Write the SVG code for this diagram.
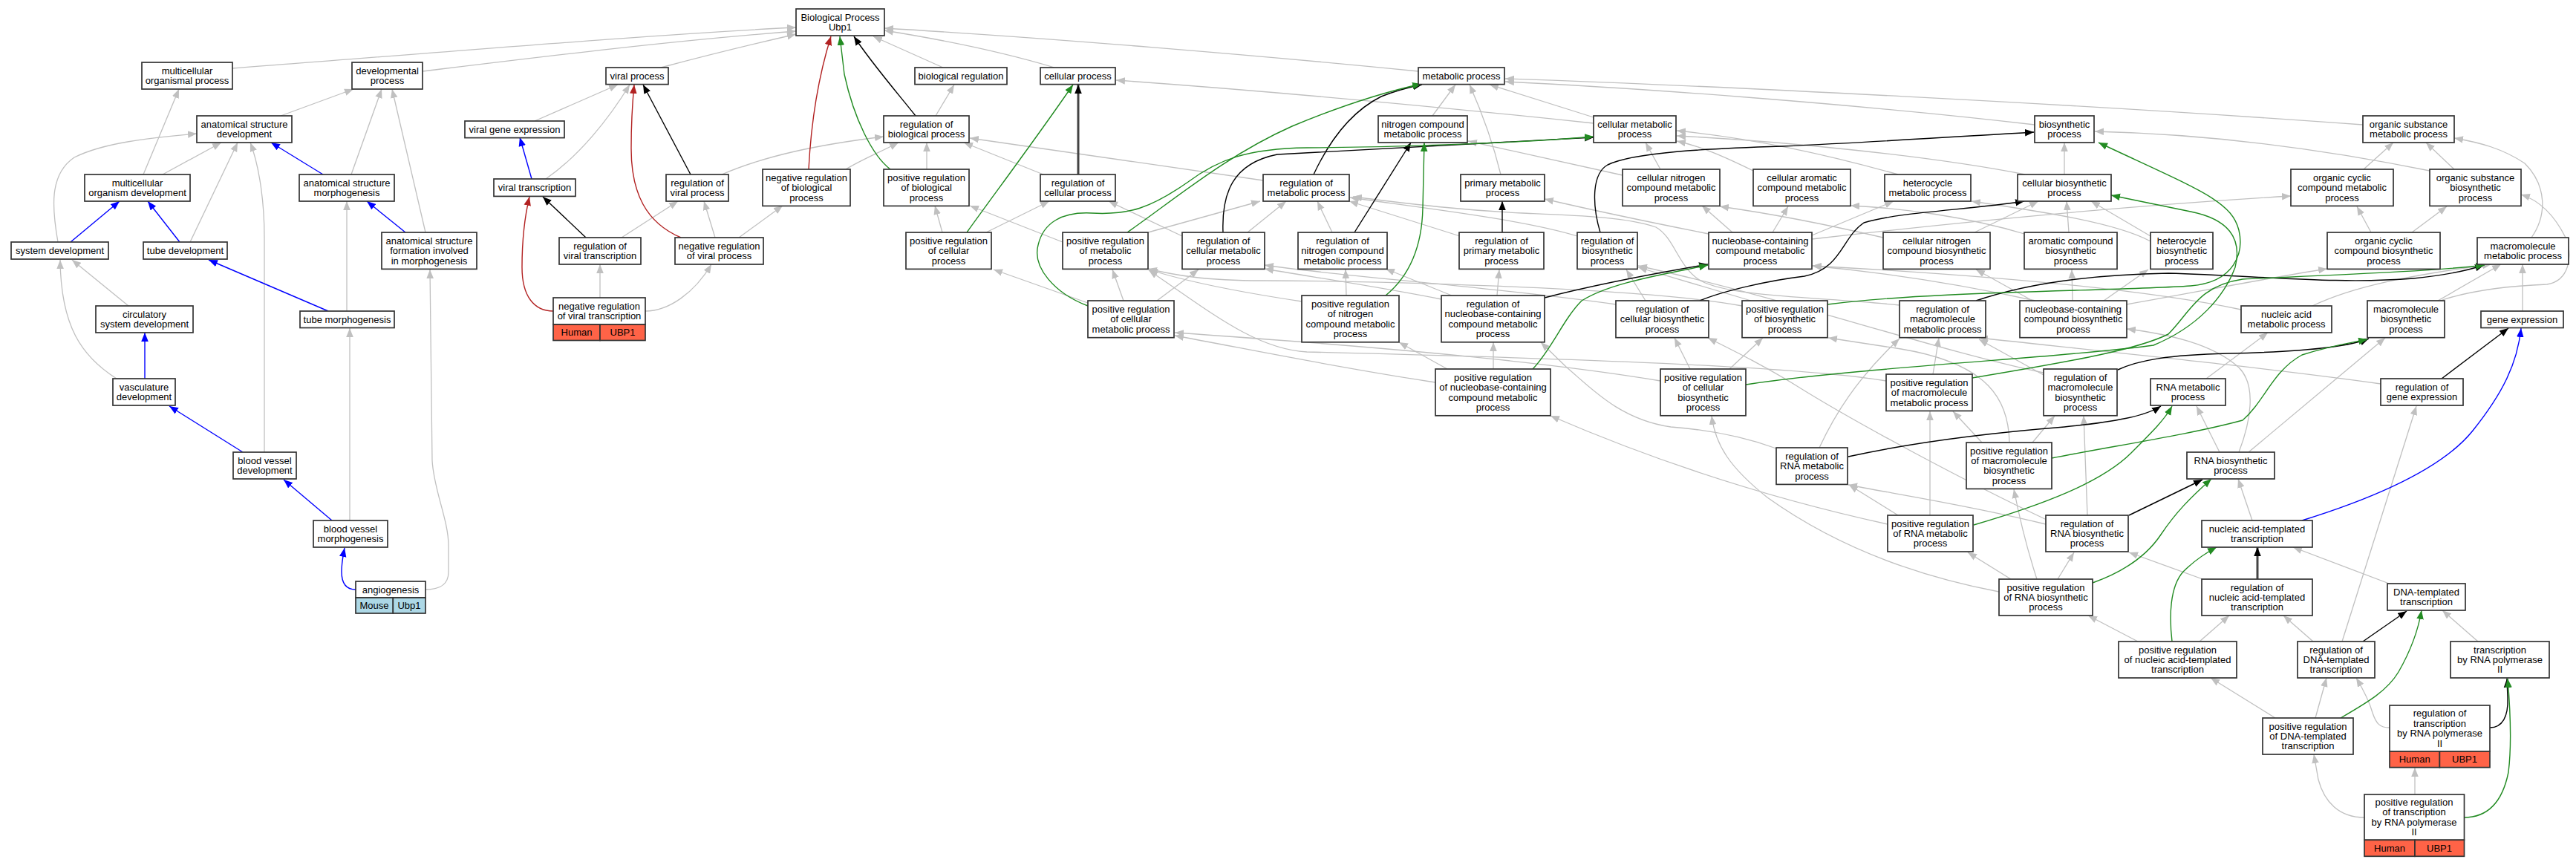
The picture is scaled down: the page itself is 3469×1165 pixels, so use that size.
<svg xmlns="http://www.w3.org/2000/svg" width="3469" height="1165" viewBox="0 0 3469 1165">
<defs>
<style>
.n{fill:#fff;stroke:#333;stroke-width:1.7}
.hu{fill:#ff6347;stroke:#333;stroke-width:1.7}
.mo{fill:#add8e6;stroke:#333;stroke-width:1.7}
.t{font-family:"Liberation Sans",Arial,Helvetica,sans-serif;font-size:13px;fill:#000;text-anchor:middle}
.e{fill:none;stroke-width:1.3}
.g{stroke:#c0c0c0;marker-end:url(#mg)}
.k{stroke:#000;stroke-width:1.4;marker-end:url(#mk)}
.kk{stroke:#444;stroke-width:3;marker-end:url(#mk)}
.gr{stroke:#228b22;stroke-width:1.4;marker-end:url(#mgr)}
.r{stroke:#b22222;stroke-width:1.4;marker-end:url(#mr)}
.b{stroke:#0000ff;stroke-width:1.4;marker-end:url(#mb)}
</style>
<marker id="mg" viewBox="0 0 10 8" refX="10" refY="4" markerWidth="12" markerHeight="10" markerUnits="userSpaceOnUse" orient="auto"><path d="M0,0L10,4L0,8z" fill="#c0c0c0"/></marker>
<marker id="mk" viewBox="0 0 10 8" refX="10" refY="4" markerWidth="12" markerHeight="10" markerUnits="userSpaceOnUse" orient="auto"><path d="M0,0L10,4L0,8z" fill="#000"/></marker>
<marker id="mgr" viewBox="0 0 10 8" refX="10" refY="4" markerWidth="12" markerHeight="10" markerUnits="userSpaceOnUse" orient="auto"><path d="M0,0L10,4L0,8z" fill="#228b22"/></marker>
<marker id="mr" viewBox="0 0 10 8" refX="10" refY="4" markerWidth="12" markerHeight="10" markerUnits="userSpaceOnUse" orient="auto"><path d="M0,0L10,4L0,8z" fill="#b22222"/></marker>
<marker id="mb" viewBox="0 0 10 8" refX="10" refY="4" markerWidth="12" markerHeight="10" markerUnits="userSpaceOnUse" orient="auto"><path d="M0,0L10,4L0,8z" fill="#0000ff"/></marker>
</defs>
<rect width="3469" height="1165" fill="#fff"/>
<g id="connectors">
<path class="e g" d="M313,92 C600,70 900,45 1072,37"/>
<path class="e g" d="M569,96 C700,80 900,55 1072,42"/>
<path class="e g" d="M890,91 C950,75 1020,58 1072,46"/>
<path class="e g" d="M1270,91 L1176,49"/>
<path class="e g" d="M1420,91 C1350,70 1260,52 1191,41"/>
<path class="e g" d="M1910,96 C1700,75 1400,50 1191,38"/>
<path class="e g" d="M378,156 L476,120"/>
<path class="e g" d="M193,235 L241,120"/>
<path class="e g" d="M219,235 L298,192"/>
<path class="e g" d="M473,235 L514,120"/>
<path class="e g" d="M78,326 C70,280 66,235 100,212 C140,192 200,186 265,180"/>
<path class="e g" d="M256,326 L320,192"/>
<path class="e g" d="M573,313 L528,120"/>
<path class="e g" d="M173,412 L97,350"/>
<path class="e g" d="M467,419 L467,271"/>
<path class="e g" d="M157,510 C110,480 82,440 81,350"/>
<path class="e g" d="M356,609 L356,320 C356,260 346,215 337,192"/>
<path class="e g" d="M471,701 L471,442"/>
<path class="e g" d="M573,794 C592,794 604,788 604,770 L604,735 C604,700 584,660 582,620 L579,363"/>
<path class="e g" d="M720,163 L832,114"/>
<path class="e g" d="M735,241 C780,210 820,160 848,114"/>
<path class="e g" d="M972,235 C1030,210 1100,195 1190,184"/>
<path class="e g" d="M1139,228 C1160,215 1185,205 1210,192"/>
<path class="e g" d="M837,320 L913,271"/>
<path class="e g" d="M963,320 L948,271"/>
<path class="e g" d="M995,320 L1054,277"/>
<path class="e g" d="M808,401 L808,356"/>
<path class="e g" d="M869,419 C900,419 935,395 958,356"/>
<path class="e g" d="M1260,156 L1285,114"/>
<path class="e g" d="M1248,228 L1248,192"/>
<path class="e g" d="M1405,235 L1298,192"/>
<path class="e g" d="M1701,243 L1306,186"/>
<path class="e g" d="M1269,313 L1259,277"/>
<path class="e g" d="M1328,313 L1413,271"/>
<path class="e g" d="M1431,326 L1306,277"/>
<path class="e g" d="M1592,318 L1493,271"/>
<path class="e g" d="M1546,313 L1697,271"/>
<path class="e g" d="M1680,313 L1732,271"/>
<path class="e g" d="M1465,408 L1338,363"/>
<path class="e g" d="M1513,405 L1498,363"/>
<path class="e g" d="M1558,405 L1614,363"/>
<path class="e g" d="M1929,156 L1960,114"/>
<path class="e g" d="M2146,158 L2006,114"/>
<path class="e g" d="M2146,166 C1900,140 1700,122 1503,108"/>
<path class="e g" d="M2021,235 C2010,190 1995,150 1979,114"/>
<path class="e g" d="M1966,318 L1817,271"/>
<path class="e g" d="M1794,313 L1774,271"/>
<path class="e g" d="M2185,236 L1977,190"/>
<path class="e g" d="M2236,228 L2216,192"/>
<path class="e g" d="M2556,235 C2450,205 2350,185 2258,176"/>
<path class="e g" d="M2727,235 C2600,210 2400,190 2258,183"/>
<path class="e g" d="M2361,230 C2320,210 2290,197 2258,190"/>
<path class="e g" d="M2780,235 L2780,192"/>
<path class="e g" d="M2740,168 C2500,140 2200,118 2027,110"/>
<path class="e g" d="M3182,168 C2800,140 2300,115 2027,106"/>
<path class="e g" d="M3183,228 L3223,192"/>
<path class="e g" d="M3305,228 L3267,192"/>
<path class="e g" d="M3272,230 C3100,195 2950,180 2821,177"/>
<path class="e g" d="M3409,320 C3430,290 3430,250 3400,220 C3370,200 3340,192 3305,186"/>
<path class="e g" d="M2333,313 L2292,277"/>
<path class="e g" d="M2387,313 L2408,278"/>
<path class="e g" d="M2440,317 L2550,271"/>
<path class="e g" d="M2440,322 C2700,292 2900,275 3085,264"/>
<path class="e g" d="M2301,315 C2200,295 2140,282 2080,268"/>
<path class="e g" d="M2536,320 C2450,300 2380,287 2316,278"/>
<path class="e g" d="M2659,313 L2745,271"/>
<path class="e g" d="M2786,313 L2783,271"/>
<path class="e g" d="M2726,315 C2650,292 2560,280 2492,277"/>
<path class="e g" d="M2896,318 L2816,271"/>
<path class="e g" d="M2896,325 C2850,300 2750,285 2655,271"/>
<path class="e g" d="M3193,313 L3174,278"/>
<path class="e g" d="M3248,313 L3295,278"/>
<path class="e g" d="M2741,405 C2650,385 2550,368 2440,358"/>
<path class="e g" d="M2737,405 L2661,363"/>
<path class="e g" d="M2791,405 L2790,363"/>
<path class="e g" d="M2833,405 L2893,363"/>
<path class="e g" d="M2864,410 C2950,395 3050,375 3134,362"/>
<path class="e g" d="M3283,405 L3368,356"/>
<path class="e g" d="M3286,405 C3330,390 3380,385 3430,383 C3460,378 3465,345 3455,320 C3440,290 3420,270 3395,262"/>
<path class="e g" d="M3018,417 C2900,392 2700,372 2441,358"/>
<path class="e g" d="M3114,412 C3170,385 3250,370 3355,356"/>
<path class="e g" d="M3397,419 L3397,356"/>
<path class="e g" d="M3206,517 C3050,495 2850,475 2665,455"/>
<path class="e g" d="M2971,510 L3054,448"/>
<path class="e g" d="M2989,609 L2958,547"/>
<path class="e g" d="M3015,609 C3030,570 3040,520 3015,495 C2980,463 2920,450 2864,443"/>
<path class="e g" d="M3028,609 L3212,455"/>
<path class="e g" d="M3033,701 L3014,645"/>
<path class="e g" d="M2969,781 L2867,744"/>
<path class="e g" d="M3220,787 L3088,737"/>
<path class="e g" d="M3115,864 L3075,829"/>
<path class="e g" d="M3154,864 L3254,547"/>
<path class="e g" d="M3337,864 L3289,822"/>
<path class="e g" d="M2879,864 L2812,829"/>
<path class="e g" d="M2962,864 L3002,829"/>
<path class="e g" d="M3064,967 L2977,913"/>
<path class="e g" d="M3118,967 L3133,913"/>
<path class="e g" d="M3218,980 C3205,980 3200,975 3195,960 C3190,942 3182,928 3173,913"/>
<path class="e g" d="M3252,1070 L3252,1034"/>
<path class="e g" d="M3184,1101 C3150,1101 3130,1080 3122,1050 L3116,1016"/>
<path class="e g" d="M1941,403 C1850,385 1760,372 1703,362"/>
<path class="e g" d="M2016,398 L2019,363"/>
<path class="e g" d="M1955,398 L1866,362"/>
<path class="e g" d="M1813,398 L1812,363"/>
<path class="e g" d="M1753,406 C1680,395 1600,380 1547,363"/>
<path class="e g" d="M2011,497 L2011,461"/>
<path class="e g" d="M1949,497 L1884,461"/>
<path class="e g" d="M1933,515 C1800,495 1680,470 1582,452"/>
<path class="e g" d="M2216,405 L2190,363"/>
<path class="e g" d="M2176,410 C2000,385 1800,372 1703,357"/>
<path class="e g" d="M2276,497 L2255,455"/>
<path class="e g" d="M2329,497 L2374,455"/>
<path class="e g" d="M2236,513 C2100,490 1900,470 1582,448"/>
<path class="e g" d="M2358,405 L2206,360"/>
<path class="e g" d="M2346,412 C2200,385 1800,378 1700,378 C1620,378 1580,370 1546,362"/>
<path class="e g" d="M2124,318 C2050,295 1900,278 1818,266"/>
<path class="e g" d="M2558,411 C2450,400 2330,400 2290,378 C2260,360 2255,320 2230,306 C2190,292 2120,290 2050,287 C1950,282 1880,272 1822,265"/>
<path class="e g" d="M2603,504 L2611,455"/>
<path class="e g" d="M2540,513 C2400,490 2000,480 1760,474 C1690,470 1630,420 1547,364"/>
<path class="e g" d="M2752,505 L2665,457"/>
<path class="e g" d="M2752,502 C2600,470 2400,400 2206,358"/>
<path class="e g" d="M2450,603 C2470,560 2500,510 2558,456"/>
<path class="e g" d="M2392,604 C2340,585 2290,578 2250,575 C2180,565 2140,520 2110,495 L2075,461"/>
<path class="e g" d="M2556,694 L2490,653"/>
<path class="e g" d="M2599,694 L2599,554"/>
<path class="e g" d="M2542,706 C2400,675 2250,630 2088,560"/>
<path class="e g" d="M2755,706 C2650,680 2550,665 2489,653"/>
<path class="e g" d="M2811,694 L2806,560"/>
<path class="e g" d="M2756,700 C2650,650 2500,570 2420,520 C2380,495 2340,475 2300,455"/>
<path class="e g" d="M2708,780 L2650,744"/>
<path class="e g" d="M2771,780 L2793,744"/>
<path class="e g" d="M2743,780 C2730,740 2720,700 2712,659"/>
<path class="e g" d="M2692,797 C2550,770 2450,720 2380,670 C2330,630 2310,600 2305,560"/>
<path class="e g" d="M2669,596 L2630,554"/>
<path class="e g" d="M2737,596 L2767,560"/>
<path class="e g" d="M2706,596 C2705,540 2680,490 2560,470 L2462,455"/>
<path class="e k" d="M1233,156 C1200,115 1170,80 1150,49"/>
<path class="e k" d="M930,235 L866,114"/>
<path class="e k" d="M789,320 L731,265"/>
<path class="e kk" d="M1452,235 L1452,114"/>
<path class="e k" d="M1769,235 C1790,190 1820,150 1860,130 C1880,122 1900,117 1915,114"/>
<path class="e k" d="M1647,313 C1645,260 1660,220 1720,208 C1850,200 2000,193 2146,185"/>
<path class="e k" d="M1824,313 L1900,192"/>
<path class="e k" d="M2023,313 L2023,271"/>
<path class="e k" d="M2155,313 C2145,280 2142,235 2165,222 C2200,205 2300,200 2400,197 C2550,190 2650,183 2739,178"/>
<path class="e k" d="M2080,401 C2150,383 2230,368 2300,356"/>
<path class="e k" d="M2289,405 C2320,392 2380,378 2430,372 C2480,362 2480,320 2510,300 C2560,285 2650,283 2726,271"/>
<path class="e k" d="M2661,405 C2720,385 2800,370 2920,368 C3050,372 3150,383 3250,375 C3300,370 3330,362 3345,357"/>
<path class="e k" d="M2852,498 C2880,485 2920,478 3000,476 C3100,474 3160,468 3190,456"/>
<path class="e k" d="M3288,510 L3378,442"/>
<path class="e k" d="M2489,615 C2580,595 2680,583 2780,575 C2850,568 2890,560 2910,547"/>
<path class="e k" d="M2867,694 L2966,646"/>
<path class="e kk" d="M3040,780 L3040,737"/>
<path class="e k" d="M3182,864 L3241,823"/>
<path class="e k" d="M3353,980 C3370,980 3378,965 3377,940 L3376,914"/>
<path class="e gr" d="M1199,228 C1175,210 1150,160 1137,100 L1131,49"/>
<path class="e gr" d="M1302,313 C1340,260 1400,180 1445,114"/>
<path class="e gr" d="M1518,313 C1580,270 1650,210 1740,170 C1800,145 1860,125 1914,113"/>
<path class="e gr" d="M1465,412 C1420,395 1390,360 1398,330 C1405,300 1430,285 1470,287 C1520,290 1550,280 1600,245 C1640,215 1680,200 1760,199 C1900,198 2050,192 2146,184"/>
<path class="e gr" d="M1866,398 C1900,370 1915,330 1916,280 L1918,192"/>
<path class="e gr" d="M2064,497 C2090,470 2105,430 2130,405 C2170,380 2240,370 2300,357"/>
<path class="e gr" d="M2461,410 C2600,392 2850,392 2950,385 C3010,380 3022,340 3015,310 C3005,270 2960,255 2826,192"/>
<path class="e gr" d="M2351,518 C2500,495 2800,480 2900,465 C2960,440 2995,400 3010,360 C3020,320 3000,295 2950,285 L2843,263"/>
<path class="e gr" d="M2656,509 C2800,485 2880,470 2920,450 C2950,420 2960,385 3020,376 C3150,370 3280,365 3346,357"/>
<path class="e gr" d="M2763,617 C2850,600 2950,585 3020,566 C3050,540 3060,500 3100,478 C3140,465 3165,462 3188,457"/>
<path class="e gr" d="M2658,707 C2750,680 2830,650 2870,610 C2900,580 2915,565 2925,547"/>
<path class="e gr" d="M2818,785 C2860,770 2890,750 2910,720 C2930,690 2950,670 2978,645"/>
<path class="e gr" d="M2925,864 C2921,830 2922,790 2940,770 C2955,755 2970,745 2985,737"/>
<path class="e gr" d="M3152,967 C3190,945 3215,930 3230,905 C3250,870 3258,840 3261,822"/>
<path class="e gr" d="M3318,1101 C3350,1101 3370,1080 3378,1040 C3383,1000 3380,950 3377,914"/>
<path class="e r" d="M1089,228 C1092,170 1100,110 1119,49"/>
<path class="e r" d="M917,320 C870,300 850,260 850,200 C850,160 852,135 854,114"/>
<path class="e r" d="M745,419 C720,419 703,400 703,360 C703,320 707,290 713,265"/>
<path class="e b" d="M435,235 L365,192"/>
<path class="e b" d="M95,326 L161,271"/>
<path class="e b" d="M242,326 L199,271"/>
<path class="e b" d="M546,313 L494,271"/>
<path class="e b" d="M442,419 L281,350"/>
<path class="e b" d="M195,510 L195,448"/>
<path class="e b" d="M327,609 L228,547"/>
<path class="e b" d="M447,701 L382,646"/>
<path class="e b" d="M479,794 C465,794 460,785 460,770 C460,758 462,748 464,738"/>
<path class="e b" d="M716,241 L700,185"/>
<path class="e b" d="M3100,701 C3200,670 3290,630 3330,580 C3370,530 3390,490 3395,442"/>
</g>
<g id="bp"><rect class="n" x="1072" y="12" width="119" height="36"/><text class="t" x="1131.5" y="27.8">Biological Process<tspan x="1131.5" dy="13.4">Ubp1</tspan></text></g>
<g id="mop"><rect class="n" x="191" y="84" width="122" height="36"/><text class="t" x="252" y="99.8">multicellular<tspan x="252" dy="13.4">organismal process</tspan></text></g>
<g id="dev"><rect class="n" x="474" y="84" width="95" height="36"/><text class="t" x="521.5" y="99.8">developmental<tspan x="521.5" dy="13.4">process</tspan></text></g>
<g id="vp"><rect class="n" x="816" y="91" width="84" height="22.6"/><text class="t" x="858" y="106.8">viral process</text></g>
<g id="breg"><rect class="n" x="1232" y="91" width="124" height="22.6"/><text class="t" x="1294" y="106.8">biological regulation</text></g>
<g id="cp"><rect class="n" x="1401" y="91" width="101" height="22.6"/><text class="t" x="1451.5" y="106.8">cellular process</text></g>
<g id="mp"><rect class="n" x="1910" y="91" width="116" height="22.6"/><text class="t" x="1968" y="106.8">metabolic process</text></g>
<g id="asd"><rect class="n" x="265" y="156" width="128" height="36"/><text class="t" x="329" y="171.8">anatomical structure<tspan x="329" dy="13.4">development</tspan></text></g>
<g id="vge"><rect class="n" x="626" y="163" width="134" height="22.6"/><text class="t" x="693" y="178.8">viral gene expression</text></g>
<g id="rbp"><rect class="n" x="1190" y="156" width="115" height="36"/><text class="t" x="1247.5" y="171.8">regulation of<tspan x="1247.5" dy="13.4">biological process</tspan></text></g>
<g id="ncmp"><rect class="n" x="1856" y="156" width="120" height="36"/><text class="t" x="1916" y="171.8">nitrogen compound<tspan x="1916" dy="13.4">metabolic process</tspan></text></g>
<g id="cmp"><rect class="n" x="2146" y="156" width="111" height="36"/><text class="t" x="2201.5" y="171.8">cellular metabolic<tspan x="2201.5" dy="13.4">process</tspan></text></g>
<g id="bsp"><rect class="n" x="2740" y="156" width="80" height="36"/><text class="t" x="2780" y="171.8">biosynthetic<tspan x="2780" dy="13.4">process</tspan></text></g>
<g id="osmp"><rect class="n" x="3182" y="156" width="123" height="36"/><text class="t" x="3243.5" y="171.8">organic substance<tspan x="3243.5" dy="13.4">metabolic process</tspan></text></g>
<g id="mod"><rect class="n" x="114" y="235" width="142" height="36"/><text class="t" x="185" y="250.8">multicellular<tspan x="185" dy="13.4">organism development</tspan></text></g>
<g id="asm"><rect class="n" x="403" y="235" width="128" height="36"/><text class="t" x="467" y="250.8">anatomical structure<tspan x="467" dy="13.4">morphogenesis</tspan></text></g>
<g id="vt"><rect class="n" x="665" y="241" width="110" height="23.4"/><text class="t" x="720" y="257.2">viral transcription</text></g>
<g id="rvp"><rect class="n" x="897" y="235" width="84" height="36"/><text class="t" x="939" y="250.8">regulation of<tspan x="939" dy="13.4">viral process</tspan></text></g>
<g id="nrbp"><rect class="n" x="1027" y="228" width="118" height="49.4"/><text class="t" x="1086" y="243.8">negative regulation<tspan x="1086" dy="13.4">of biological</tspan><tspan x="1086" dy="13.4">process</tspan></text></g>
<g id="prbp"><rect class="n" x="1190" y="228" width="115" height="49.4"/><text class="t" x="1247.5" y="243.8">positive regulation<tspan x="1247.5" dy="13.4">of biological</tspan><tspan x="1247.5" dy="13.4">process</tspan></text></g>
<g id="rcp"><rect class="n" x="1401" y="235" width="101" height="36"/><text class="t" x="1451.5" y="250.8">regulation of<tspan x="1451.5" dy="13.4">cellular process</tspan></text></g>
<g id="rmp"><rect class="n" x="1701" y="235" width="116" height="36"/><text class="t" x="1759" y="250.8">regulation of<tspan x="1759" dy="13.4">metabolic process</tspan></text></g>
<g id="pmp"><rect class="n" x="1967" y="235" width="113" height="36"/><text class="t" x="2023.5" y="250.8">primary metabolic<tspan x="2023.5" dy="13.4">process</tspan></text></g>
<g id="cncmp"><rect class="n" x="2185" y="228" width="131" height="49.4"/><text class="t" x="2250.5" y="243.8">cellular nitrogen<tspan x="2250.5" dy="13.4">compound metabolic</tspan><tspan x="2250.5" dy="13.4">process</tspan></text></g>
<g id="cacmp"><rect class="n" x="2361" y="228" width="131" height="49.4"/><text class="t" x="2426.5" y="243.8">cellular aromatic<tspan x="2426.5" dy="13.4">compound metabolic</tspan><tspan x="2426.5" dy="13.4">process</tspan></text></g>
<g id="hmp"><rect class="n" x="2538" y="235" width="116" height="36"/><text class="t" x="2596" y="250.8">heterocycle<tspan x="2596" dy="13.4">metabolic process</tspan></text></g>
<g id="cbp"><rect class="n" x="2717" y="235" width="126" height="36"/><text class="t" x="2780" y="250.8">cellular biosynthetic<tspan x="2780" dy="13.4">process</tspan></text></g>
<g id="occmp"><rect class="n" x="3085" y="228" width="138" height="49.4"/><text class="t" x="3154" y="243.8">organic cyclic<tspan x="3154" dy="13.4">compound metabolic</tspan><tspan x="3154" dy="13.4">process</tspan></text></g>
<g id="osbp"><rect class="n" x="3272" y="228" width="123" height="49.4"/><text class="t" x="3333.5" y="243.8">organic substance<tspan x="3333.5" dy="13.4">biosynthetic</tspan><tspan x="3333.5" dy="13.4">process</tspan></text></g>
<g id="sd"><rect class="n" x="15" y="326" width="131" height="23"/><text class="t" x="80.5" y="342">system development</text></g>
<g id="td"><rect class="n" x="193" y="326" width="113" height="23"/><text class="t" x="249.5" y="342">tube development</text></g>
<g id="asf"><rect class="n" x="514" y="313" width="128" height="49.4"/><text class="t" x="578" y="328.8">anatomical structure<tspan x="578" dy="13.4">formation involved</tspan><tspan x="578" dy="13.4">in morphogenesis</tspan></text></g>
<g id="rvt"><rect class="n" x="753" y="320" width="110" height="36"/><text class="t" x="808" y="335.8">regulation of<tspan x="808" dy="13.4">viral transcription</tspan></text></g>
<g id="nrvp"><rect class="n" x="909" y="320" width="119" height="36"/><text class="t" x="968.5" y="335.8">negative regulation<tspan x="968.5" dy="13.4">of viral process</tspan></text></g>
<g id="prcp"><rect class="n" x="1220" y="313" width="115" height="49.4"/><text class="t" x="1277.5" y="328.8">positive regulation<tspan x="1277.5" dy="13.4">of cellular</tspan><tspan x="1277.5" dy="13.4">process</tspan></text></g>
<g id="prmp"><rect class="n" x="1431" y="313" width="115" height="49.4"/><text class="t" x="1488.5" y="328.8">positive regulation<tspan x="1488.5" dy="13.4">of metabolic</tspan><tspan x="1488.5" dy="13.4">process</tspan></text></g>
<g id="rcmp"><rect class="n" x="1592" y="313" width="111" height="49.4"/><text class="t" x="1647.5" y="328.8">regulation of<tspan x="1647.5" dy="13.4">cellular metabolic</tspan><tspan x="1647.5" dy="13.4">process</tspan></text></g>
<g id="rncmp"><rect class="n" x="1748" y="313" width="120" height="49.4"/><text class="t" x="1808" y="328.8">regulation of<tspan x="1808" dy="13.4">nitrogen compound</tspan><tspan x="1808" dy="13.4">metabolic process</tspan></text></g>
<g id="rpmp"><rect class="n" x="1965" y="313" width="114" height="49.4"/><text class="t" x="2022" y="328.8">regulation of<tspan x="2022" dy="13.4">primary metabolic</tspan><tspan x="2022" dy="13.4">process</tspan></text></g>
<g id="rbsp"><rect class="n" x="2124" y="313" width="81" height="49.4"/><text class="t" x="2164.5" y="328.8">regulation of<tspan x="2164.5" dy="13.4">biosynthetic</tspan><tspan x="2164.5" dy="13.4">process</tspan></text></g>
<g id="nccmp"><rect class="n" x="2301" y="313" width="139" height="49.4"/><text class="t" x="2370.5" y="328.8">nucleobase-containing<tspan x="2370.5" dy="13.4">compound metabolic</tspan><tspan x="2370.5" dy="13.4">process</tspan></text></g>
<g id="cncbp"><rect class="n" x="2536" y="313" width="144" height="49.4"/><text class="t" x="2608" y="328.8">cellular nitrogen<tspan x="2608" dy="13.4">compound biosynthetic</tspan><tspan x="2608" dy="13.4">process</tspan></text></g>
<g id="acbp"><rect class="n" x="2726" y="313" width="125" height="49.4"/><text class="t" x="2788.5" y="328.8">aromatic compound<tspan x="2788.5" dy="13.4">biosynthetic</tspan><tspan x="2788.5" dy="13.4">process</tspan></text></g>
<g id="hbp"><rect class="n" x="2896" y="313" width="84" height="49.4"/><text class="t" x="2938" y="328.8">heterocycle<tspan x="2938" dy="13.4">biosynthetic</tspan><tspan x="2938" dy="13.4">process</tspan></text></g>
<g id="occbp"><rect class="n" x="3134" y="313" width="152" height="49.4"/><text class="t" x="3210" y="328.8">organic cyclic<tspan x="3210" dy="13.4">compound biosynthetic</tspan><tspan x="3210" dy="13.4">process</tspan></text></g>
<g id="mmp"><rect class="n" x="3336" y="320" width="123" height="36"/><text class="t" x="3397.5" y="335.8">macromolecule<tspan x="3397.5" dy="13.4">metabolic process</tspan></text></g>
<g id="csd"><rect class="n" x="129" y="412" width="131" height="36"/><text class="t" x="194.5" y="427.8">circulatory<tspan x="194.5" dy="13.4">system development</tspan></text></g>
<g id="tm"><rect class="n" x="404" y="419" width="127" height="22.5"/><text class="t" x="467.5" y="434.7">tube morphogenesis</text></g>
<g id="nrvt"><rect class="n" x="745" y="401" width="124" height="36"/><text class="t" x="807" y="416.8">negative regulation<tspan x="807" dy="13.4">of viral transcription</tspan></text><rect class="hu" x="745" y="437" width="63" height="21.5"/><rect class="hu" x="808" y="437" width="61" height="21.5"/><text class="t" x="776.5" y="452.3">Human</text><text class="t" x="838.5" y="452.3">UBP1</text></g>
<g id="prcmp"><rect class="n" x="1465" y="405" width="116" height="49.7"/><text class="t" x="1523" y="420.9">positive regulation<tspan x="1523" dy="13.4">of cellular</tspan><tspan x="1523" dy="13.4">metabolic process</tspan></text></g>
<g id="prncmp"><rect class="n" x="1753" y="398" width="131" height="62.8"/><text class="t" x="1818.5" y="413.8">positive regulation<tspan x="1818.5" dy="13.4">of nitrogen</tspan><tspan x="1818.5" dy="13.4">compound metabolic</tspan><tspan x="1818.5" dy="13.4">process</tspan></text></g>
<g id="rnccmp"><rect class="n" x="1941" y="398" width="139" height="62.8"/><text class="t" x="2010.5" y="413.8">regulation of<tspan x="2010.5" dy="13.4">nucleobase-containing</tspan><tspan x="2010.5" dy="13.4">compound metabolic</tspan><tspan x="2010.5" dy="13.4">process</tspan></text></g>
<g id="rcbp"><rect class="n" x="2176" y="405" width="125" height="49.7"/><text class="t" x="2238.5" y="420.9">regulation of<tspan x="2238.5" dy="13.4">cellular biosynthetic</tspan><tspan x="2238.5" dy="13.4">process</tspan></text></g>
<g id="prbsp"><rect class="n" x="2346" y="405" width="115" height="49.7"/><text class="t" x="2403.5" y="420.9">positive regulation<tspan x="2403.5" dy="13.4">of biosynthetic</tspan><tspan x="2403.5" dy="13.4">process</tspan></text></g>
<g id="rmmp"><rect class="n" x="2558" y="405" width="116" height="49.7"/><text class="t" x="2616" y="420.9">regulation of<tspan x="2616" dy="13.4">macromolecule</tspan><tspan x="2616" dy="13.4">metabolic process</tspan></text></g>
<g id="ncbp"><rect class="n" x="2720" y="405" width="144" height="49.7"/><text class="t" x="2792" y="420.9">nucleobase-containing<tspan x="2792" dy="13.4">compound biosynthetic</tspan><tspan x="2792" dy="13.4">process</tspan></text></g>
<g id="namp"><rect class="n" x="3018" y="412" width="122" height="36"/><text class="t" x="3079" y="427.8">nucleic acid<tspan x="3079" dy="13.4">metabolic process</tspan></text></g>
<g id="mbp"><rect class="n" x="3188" y="405" width="104" height="49.7"/><text class="t" x="3240" y="420.9">macromolecule<tspan x="3240" dy="13.4">biosynthetic</tspan><tspan x="3240" dy="13.4">process</tspan></text></g>
<g id="ge"><rect class="n" x="3341" y="419" width="111" height="22.5"/><text class="t" x="3396.5" y="434.7">gene expression</text></g>
<g id="vd"><rect class="n" x="152" y="510" width="84" height="36"/><text class="t" x="194" y="525.8">vasculature<tspan x="194" dy="13.4">development</tspan></text></g>
<g id="prnccmp"><rect class="n" x="1933" y="497" width="155" height="62.8"/><text class="t" x="2010.5" y="512.8">positive regulation<tspan x="2010.5" dy="13.4">of nucleobase-containing</tspan><tspan x="2010.5" dy="13.4">compound metabolic</tspan><tspan x="2010.5" dy="13.4">process</tspan></text></g>
<g id="prcbp"><rect class="n" x="2236" y="497" width="115" height="62.8"/><text class="t" x="2293.5" y="512.8">positive regulation<tspan x="2293.5" dy="13.4">of cellular</tspan><tspan x="2293.5" dy="13.4">biosynthetic</tspan><tspan x="2293.5" dy="13.4">process</tspan></text></g>
<g id="prmmp"><rect class="n" x="2540" y="504" width="116" height="49.4"/><text class="t" x="2598" y="519.8">positive regulation<tspan x="2598" dy="13.4">of macromolecule</tspan><tspan x="2598" dy="13.4">metabolic process</tspan></text></g>
<g id="rmbp"><rect class="n" x="2752" y="497" width="99" height="62.8"/><text class="t" x="2801.5" y="512.8">regulation of<tspan x="2801.5" dy="13.4">macromolecule</tspan><tspan x="2801.5" dy="13.4">biosynthetic</tspan><tspan x="2801.5" dy="13.4">process</tspan></text></g>
<g id="rnamp"><rect class="n" x="2896" y="510" width="101" height="36"/><text class="t" x="2946.5" y="525.8">RNA metabolic<tspan x="2946.5" dy="13.4">process</tspan></text></g>
<g id="rge"><rect class="n" x="3206" y="510" width="111" height="36"/><text class="t" x="3261.5" y="525.8">regulation of<tspan x="3261.5" dy="13.4">gene expression</tspan></text></g>
<g id="bvd"><rect class="n" x="314" y="609" width="85" height="36"/><text class="t" x="356.5" y="624.8">blood vessel<tspan x="356.5" dy="13.4">development</tspan></text></g>
<g id="rrnamp"><rect class="n" x="2392" y="603" width="96" height="49.4"/><text class="t" x="2440" y="618.8">regulation of<tspan x="2440" dy="13.4">RNA metabolic</tspan><tspan x="2440" dy="13.4">process</tspan></text></g>
<g id="prmbp"><rect class="n" x="2648" y="596" width="115" height="62.4"/><text class="t" x="2705.5" y="611.6">positive regulation<tspan x="2705.5" dy="13.4">of macromolecule</tspan><tspan x="2705.5" dy="13.4">biosynthetic</tspan><tspan x="2705.5" dy="13.4">process</tspan></text></g>
<g id="rnabp"><rect class="n" x="2945" y="609" width="118" height="36"/><text class="t" x="3004" y="624.8">RNA biosynthetic<tspan x="3004" dy="13.4">process</tspan></text></g>
<g id="bvm"><rect class="n" x="422" y="701" width="100" height="36"/><text class="t" x="472" y="716.8">blood vessel<tspan x="472" dy="13.4">morphogenesis</tspan></text></g>
<g id="prrnamp"><rect class="n" x="2542" y="694" width="115" height="49"/><text class="t" x="2599.5" y="709.6">positive regulation<tspan x="2599.5" dy="13.4">of RNA metabolic</tspan><tspan x="2599.5" dy="13.4">process</tspan></text></g>
<g id="rrnabp"><rect class="n" x="2755" y="694" width="111" height="49"/><text class="t" x="2810.5" y="709.6">regulation of<tspan x="2810.5" dy="13.4">RNA biosynthetic</tspan><tspan x="2810.5" dy="13.4">process</tspan></text></g>
<g id="natt"><rect class="n" x="2965" y="701" width="149" height="36"/><text class="t" x="3039.5" y="716.8">nucleic acid-templated<tspan x="3039.5" dy="13.4">transcription</tspan></text></g>
<g id="ang"><rect class="n" x="479" y="783" width="94" height="22"/><text class="t" x="526" y="798.5">angiogenesis</text><rect class="mo" x="479" y="805" width="50.3" height="21"/><rect class="mo" x="529.3" y="805" width="43.7" height="21"/><text class="t" x="504" y="820">Mouse</text><text class="t" x="551" y="820">Ubp1</text></g>
<g id="prrnabp"><rect class="n" x="2692" y="780" width="126" height="49"/><text class="t" x="2755" y="795.6">positive regulation<tspan x="2755" dy="13.4">of RNA biosynthetic</tspan><tspan x="2755" dy="13.4">process</tspan></text></g>
<g id="rnatt"><rect class="n" x="2965" y="780" width="149" height="49"/><text class="t" x="3039.5" y="795.6">regulation of<tspan x="3039.5" dy="13.4">nucleic acid-templated</tspan><tspan x="3039.5" dy="13.4">transcription</tspan></text></g>
<g id="dtt"><rect class="n" x="3215" y="786" width="105" height="36"/><text class="t" x="3267.5" y="801.8">DNA-templated<tspan x="3267.5" dy="13.4">transcription</tspan></text></g>
<g id="prnatt"><rect class="n" x="2853" y="864" width="159" height="49"/><text class="t" x="2932.5" y="879.6">positive regulation<tspan x="2932.5" dy="13.4">of nucleic acid-templated</tspan><tspan x="2932.5" dy="13.4">transcription</tspan></text></g>
<g id="rdtt"><rect class="n" x="3094" y="864" width="104" height="49"/><text class="t" x="3146" y="879.6">regulation of<tspan x="3146" dy="13.4">DNA-templated</tspan><tspan x="3146" dy="13.4">transcription</tspan></text></g>
<g id="trp2"><rect class="n" x="3300" y="864" width="133" height="49"/><text class="t" x="3366.5" y="879.6">transcription<tspan x="3366.5" dy="13.4">by RNA polymerase</tspan><tspan x="3366.5" dy="13.4">II</tspan></text></g>
<g id="prdtt"><rect class="n" x="3047" y="967" width="122" height="49"/><text class="t" x="3108" y="982.6">positive regulation<tspan x="3108" dy="13.4">of DNA-templated</tspan><tspan x="3108" dy="13.4">transcription</tspan></text></g>
<g id="rtrp2"><rect class="n" x="3218" y="950" width="135" height="62"/><text class="t" x="3285.5" y="965.4">regulation of<tspan x="3285.5" dy="13.4">transcription</tspan><tspan x="3285.5" dy="13.4">by RNA polymerase</tspan><tspan x="3285.5" dy="13.4">II</tspan></text><rect class="hu" x="3218" y="1012" width="67.4" height="21.6"/><rect class="hu" x="3285.4" y="1012" width="67.6" height="21.6"/><text class="t" x="3251.7" y="1027.3">Human</text><text class="t" x="3319" y="1027.3">UBP1</text></g>
<g id="prtrp2"><rect class="n" x="3184" y="1070" width="134.5" height="61.3"/><text class="t" x="3251" y="1084.9">positive regulation<tspan x="3251" dy="13.4">of transcription</tspan><tspan x="3251" dy="13.4">by RNA polymerase</tspan><tspan x="3251" dy="13.4">II</tspan></text><rect class="hu" x="3184" y="1131.3" width="68" height="22"/><rect class="hu" x="3252" y="1131.3" width="66.5" height="22"/><text class="t" x="3218" y="1146.8">Human</text><text class="t" x="3285" y="1146.8">UBP1</text></g>
</svg>
